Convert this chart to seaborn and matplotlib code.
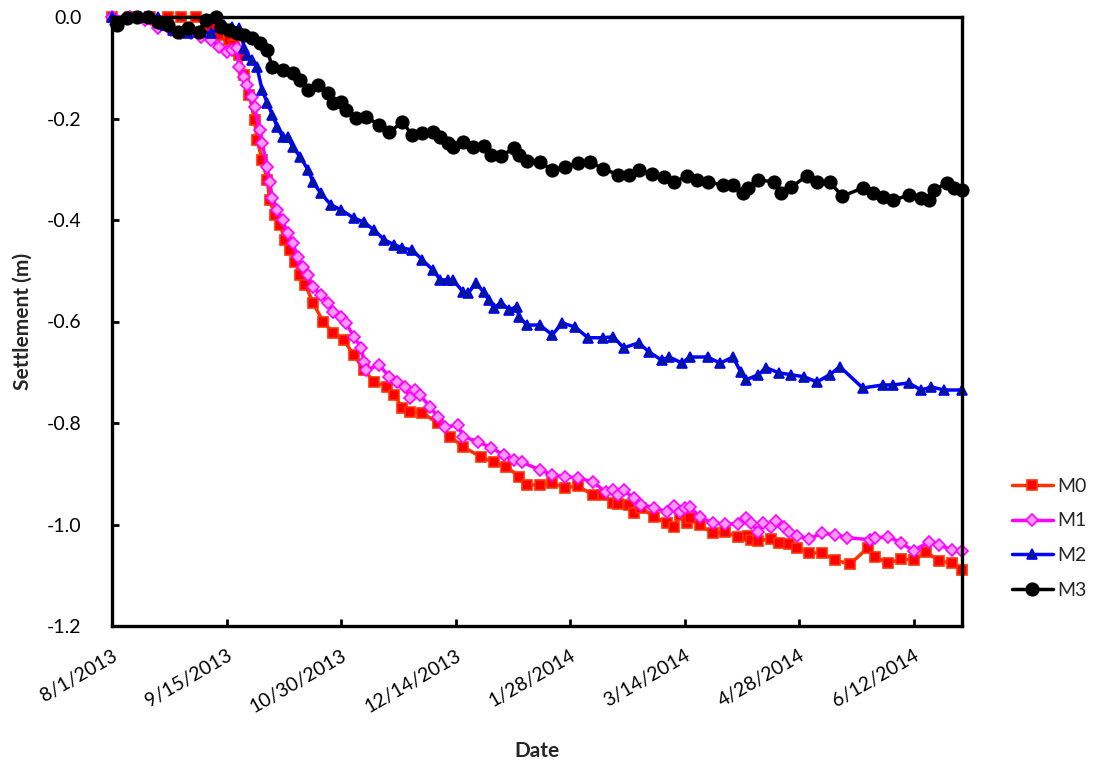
import pandas as pd
import matplotlib
matplotlib.use("Agg")
import matplotlib.pyplot as plt
import seaborn as sns

# ---------------------------------------------
# Dados: dias desde 8/1/2013 e recalque (m)
# ---------------------------------------------
start = pd.Timestamp("2013-08-01")

m0_days = [0, 7, 15, 22, 27, 33, 37, 39, 42, 46, 48, 50, 52, 54, 56, 57, 59, 61, 62, 64,
           66, 68, 70, 72, 74, 76, 79, 83, 87, 91, 95, 99, 103, 108, 111, 114, 117, 122,
           128, 133, 138, 145, 150, 155, 160, 163, 168, 173, 178, 183, 189, 193, 197, 199,
           203, 205, 208, 213, 218, 221, 223, 226, 227, 231, 236, 241, 246, 250, 251, 254,
           259, 262, 266, 269, 274, 279, 284, 290, 297, 300, 305, 310, 315, 320, 325, 330, 334]
m0_vals = [0.0, 0.0, 0.0, 0.0, 0.0, 0.0, -0.010, -0.022, -0.035, -0.045, -0.055, -0.075,
           -0.114, -0.154, -0.203, -0.242, -0.282, -0.321, -0.361, -0.390, -0.410, -0.439,
           -0.459, -0.483, -0.508, -0.528, -0.563, -0.601, -0.622, -0.636, -0.666, -0.695,
           -0.719, -0.729, -0.745, -0.770, -0.778, -0.780, -0.800, -0.827, -0.847, -0.867,
           -0.877, -0.886, -0.906, -0.922, -0.922, -0.918, -0.928, -0.924, -0.942, -0.942,
           -0.957, -0.959, -0.961, -0.977, -0.967, -0.985, -0.997, -1.005, -0.981, -0.997,
           -0.987, -1.001, -1.017, -1.015, -1.024, -1.022, -1.030, -1.032, -1.028, -1.036,
           -1.038, -1.046, -1.056, -1.056, -1.070, -1.078, -1.046, -1.064, -1.076, -1.068,
           -1.070, -1.054, -1.072, -1.076, -1.090]

m1_days = [0, 7, 13, 18, 23, 27, 31, 35, 39, 42, 45, 47, 49, 50, 52, 53, 55, 56, 58, 59,
           61, 62, 63, 65, 67, 69, 71, 73, 75, 77, 79, 82, 85, 87, 90, 92, 95, 98, 99, 100,
           105, 109, 112, 115, 117, 119, 121, 125, 128, 131, 136, 138, 144, 149, 154, 158,
           161, 168, 173, 178, 183, 189, 194, 197, 199, 201, 205, 208, 213, 218, 221, 223,
           225, 227, 231, 236, 241, 246, 249, 251, 254, 256, 259, 261, 264, 266, 269, 274,
           279, 284, 289, 298, 300, 305, 310, 315, 321, 325, 330, 334]
m1_vals = [0.0, 0.0, -0.006, -0.022, -0.026, -0.032, -0.032, -0.039, -0.045, -0.059, -0.069,
           -0.065, -0.061, -0.099, -0.118, -0.134, -0.158, -0.177, -0.223, -0.248, -0.296,
           -0.325, -0.357, -0.380, -0.400, -0.426, -0.445, -0.473, -0.493, -0.508, -0.532,
           -0.548, -0.563, -0.581, -0.591, -0.603, -0.630, -0.652, -0.680, -0.695, -0.686,
           -0.709, -0.719, -0.729, -0.751, -0.735, -0.745, -0.768, -0.788, -0.808, -0.804,
           -0.827, -0.837, -0.849, -0.863, -0.873, -0.877, -0.892, -0.902, -0.906, -0.908,
           -0.916, -0.936, -0.932, -0.942, -0.932, -0.948, -0.961, -0.967, -0.975, -0.963,
           -0.975, -0.967, -0.965, -0.985, -0.997, -0.999, -0.999, -0.987, -0.997, -1.015,
           -0.997, -1.005, -0.993, -1.005, -1.015, -1.022, -1.028, -1.017, -1.020, -1.026,
           -1.030, -1.026, -1.024, -1.036, -1.052, -1.034, -1.040, -1.050, -1.052]

m2_days = [0, 1, 7, 13, 18, 21, 24, 30, 35, 39, 44, 47, 50, 52, 53, 55, 57, 59, 61, 63,
           65, 67, 69, 71, 74, 77, 79, 82, 86, 90, 95, 99, 103, 107, 111, 114, 118, 122,
           126, 129, 132, 134, 138, 140, 143, 146, 148, 150, 153, 156, 159, 160, 163, 168,
           173, 177, 182, 187, 193, 197, 201, 207, 211, 216, 219, 224, 227, 234, 239, 244,
           247, 249, 254, 257, 262, 267, 272, 277, 282, 286, 295, 303, 307, 313, 318, 322,
           327, 334]
m2_vals = [0.0, -0.006, 0.0, 0.0, 0.0, -0.016, -0.026, -0.032, -0.030, -0.032, -0.016,
           -0.020, -0.022, -0.061, -0.075, -0.085, -0.099, -0.144, -0.169, -0.193, -0.217,
           -0.236, -0.236, -0.256, -0.276, -0.301, -0.325, -0.347, -0.370, -0.380, -0.396,
           -0.404, -0.420, -0.439, -0.449, -0.455, -0.459, -0.479, -0.498, -0.518, -0.518,
           -0.518, -0.542, -0.544, -0.524, -0.542, -0.557, -0.573, -0.563, -0.577, -0.571,
           -0.591, -0.607, -0.607, -0.626, -0.603, -0.611, -0.632, -0.632, -0.630, -0.652,
           -0.642, -0.660, -0.676, -0.670, -0.682, -0.670, -0.670, -0.682, -0.670, -0.699,
           -0.715, -0.705, -0.691, -0.701, -0.705, -0.709, -0.719, -0.705, -0.689, -0.731,
           -0.725, -0.725, -0.721, -0.735, -0.729, -0.735, -0.735]

m3_days = [2, 6, 10, 14, 18, 22, 26, 30, 34, 37, 41, 43, 46, 49, 52, 55, 58, 61, 63, 67,
           71, 74, 77, 81, 85, 87, 90, 92, 96, 100, 105, 109, 114, 118, 122, 126, 129, 132,
           134, 138, 142, 146, 149, 153, 158, 160, 163, 168, 173, 178, 183, 188, 193, 199,
           203, 207, 212, 217, 221, 226, 230, 234, 240, 244, 248, 250, 254, 260, 263, 267,
           273, 277, 282, 287, 295, 299, 303, 307, 313, 318, 321, 323, 328, 331, 334]
m3_vals = [-0.016, -0.002, 0.0, 0.0, -0.010, -0.016, -0.030, -0.022, -0.030, -0.006, 0.0,
           -0.020, -0.026, -0.032, -0.035, -0.041, -0.051, -0.065, -0.099, -0.104, -0.110,
           -0.124, -0.144, -0.134, -0.150, -0.169, -0.167, -0.183, -0.199, -0.197, -0.213,
           -0.227, -0.207, -0.232, -0.229, -0.227, -0.236, -0.248, -0.256, -0.246, -0.256,
           -0.254, -0.272, -0.274, -0.258, -0.272, -0.284, -0.286, -0.301, -0.296, -0.288,
           -0.286, -0.299, -0.311, -0.311, -0.301, -0.309, -0.315, -0.325, -0.313, -0.321,
           -0.325, -0.331, -0.331, -0.347, -0.337, -0.321, -0.325, -0.347, -0.335, -0.313,
           -0.325, -0.325, -0.353, -0.337, -0.347, -0.355, -0.361, -0.351, -0.357, -0.361,
           -0.341, -0.327, -0.337, -0.341]

series_names = ["M0", "M1", "M2", "M3"]
tick_days = [0, 45, 90, 135, 180, 225, 270, 315]
y_ticks = [0.0, -0.2, -0.4, -0.6, -0.8, -1.0, -1.2]

# estilo de cada serie (linha, marcador, face, borda, tamanho)
estilos = {
    "M0": dict(color="#FF3300", marker="s", markerfacecolor="#FF0000",
               markeredgecolor="#FF3300", markersize=7.5),
    "M1": dict(color="#FF00FF", marker="D", markerfacecolor="#FF99FF",
               markeredgecolor="#FF00FF", markersize=6.2),
    "M2": dict(color="#0000FF", marker="^", markerfacecolor="#001F7A",
               markeredgecolor="#0000FF", markersize=7.5),
    "M3": dict(color="#000000", marker="o", markerfacecolor="#000000",
               markeredgecolor="#000000", markersize=9),
}

frames = []
for nome, dias, vals in [("M0", m0_days, m0_vals), ("M1", m1_days, m1_vals),
                         ("M2", m2_days, m2_vals), ("M3", m3_days, m3_vals)]:
    frames.append(pd.DataFrame({
        "date": start + pd.to_timedelta(dias, unit="D"),
        "settlement": vals,
        "serie": nome,
    }))
df = pd.concat(frames, ignore_index=True)

# ---------------------------------------------
# Grafico
# ---------------------------------------------
sns.set_theme(style="white")
plt.rcParams["font.family"] = ["Lato", "DejaVu Sans"]
plt.rcParams["axes.unicode_minus"] = False

fig = plt.figure(figsize=(10.95, 7.64), dpi=100)
ax = fig.add_axes([112 / 1095, 1 - 626 / 764, 850 / 1095, 609 / 764])

for nome in series_names:
    sub = df[df["serie"] == nome]
    sns.lineplot(data=sub, x="date", y="settlement", ax=ax, label=nome,
                 estimator=None, sort=False, linewidth=2.5, markeredgewidth=1.2,
                 clip_on=False, **estilos[nome])

ax.set_xlim(start, start + pd.Timedelta(days=334))
ax.set_ylim(-1.2, 0.0)

ticks = [start + pd.Timedelta(days=d) for d in tick_days]
ax.set_xticks(ticks)
ax.set_xticklabels([f"{t.month}/{t.day}/{t.year}" for t in ticks],
                   rotation=30, ha="right", va="top", rotation_mode="anchor")
ax.set_yticks(y_ticks)
ax.set_yticklabels([f"{v:.1f}" for v in y_ticks])

ax.tick_params(axis="x", direction="in", length=5, width=2, pad=15,
               labelsize=14, bottom=True, top=False, colors="black")
ax.tick_params(axis="y", direction="in", length=5, width=2, pad=22,
               labelsize=14, left=True, right=False, colors="black")

for s in ax.spines.values():
    s.set_color("black")
    s.set_linewidth(2.4)

ax.set_xlabel("Date", fontsize=15, fontweight="bold", labelpad=18)
ax.set_ylabel("Settlement (m)", fontsize=15, fontweight="bold", labelpad=10)

ax.legend(loc="upper left", bbox_to_anchor=(1012 / 1095, 1 - 478 / 764),
          bbox_transform=fig.transFigure, frameon=False, fontsize=14,
          handlelength=2.1, handletextpad=0.25, labelspacing=0.9,
          borderpad=0, borderaxespad=0, numpoints=1)

fig.savefig("out.png", dpi=100)
